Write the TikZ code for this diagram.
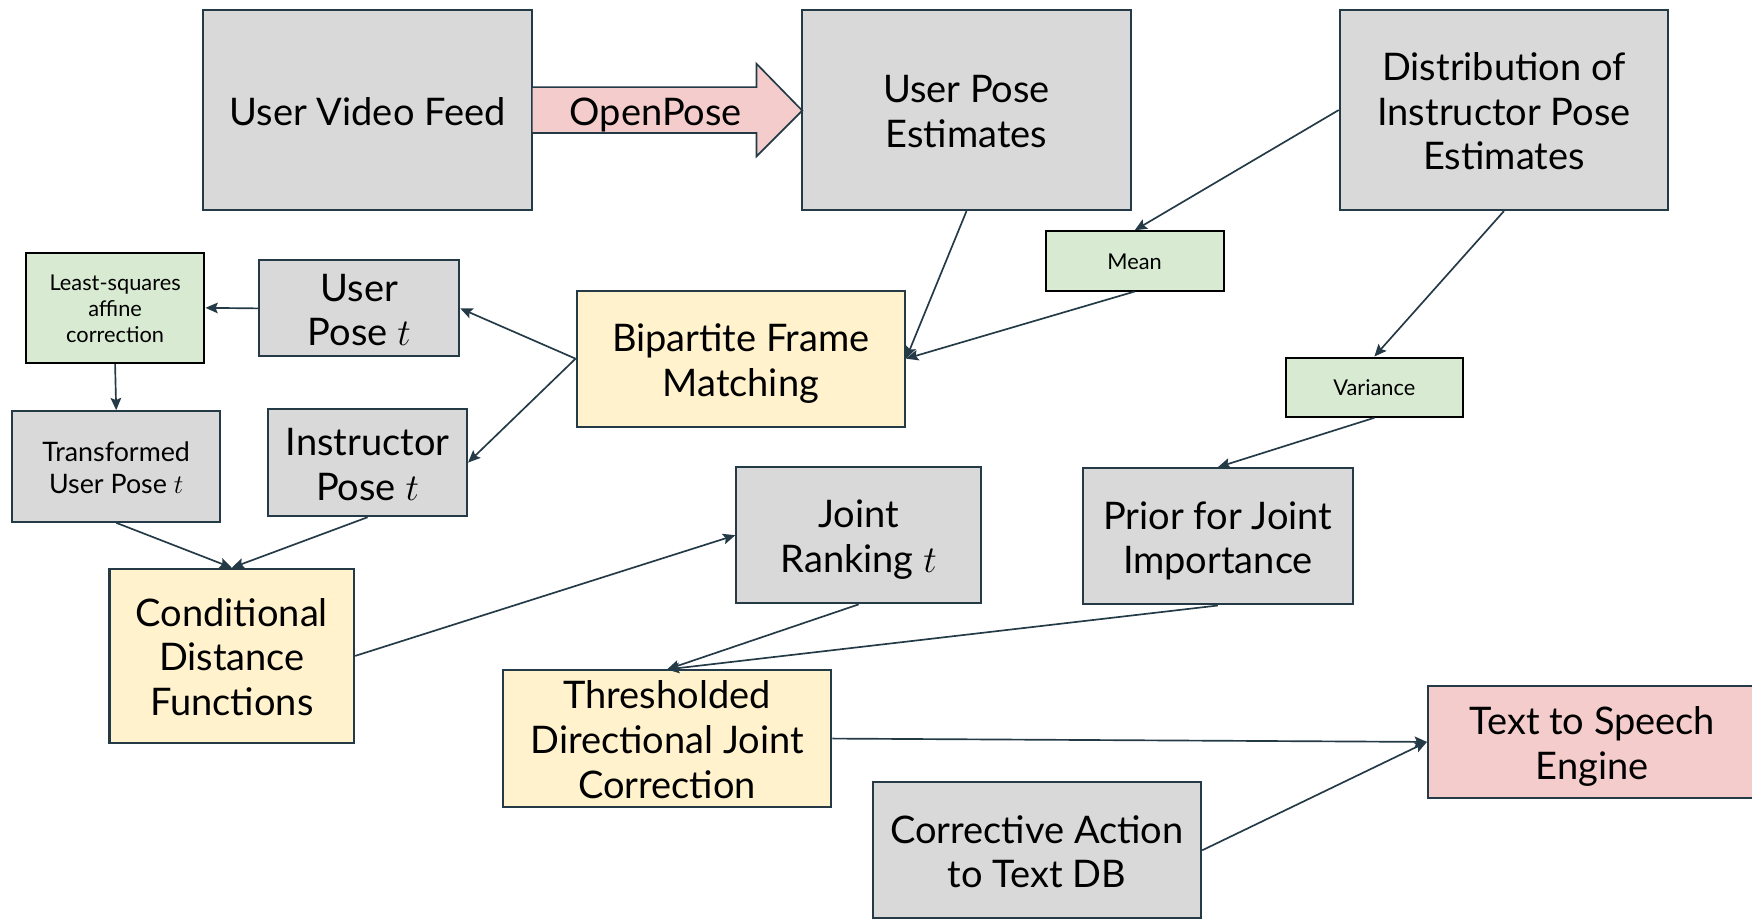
\RequirePackage{fix-cm}
\documentclass[tikz,border=0pt]{standalone}
\usepackage{fontspec}
\setmainfont{Lato}
\usetikzlibrary{arrows.meta}
\definecolor{edge}{HTML}{243A47}
\definecolor{gfill}{HTML}{D9D9D9}
\definecolor{yfill}{HTML}{FFF2CC}
\definecolor{grfill}{HTML}{D9EAD3}
\definecolor{pfill}{HTML}{F4CCCC}
\newcommand\bs{\rule[-0.1625\baselineskip]{0pt}{\baselineskip}}
\tikzset{
  box/.style={draw=edge, line width=1.8pt, align=center, inner sep=0pt, text=black},
  bigtxt/.style={font=\fontsize{34}{40}\selectfont},
  midtxt/.style={font=\fontsize{24}{29}\selectfont},
  smalltxt/.style={font=\fontsize{19.5}{23}\selectfont},
  gbox/.style={box, fill=gfill},
  ybox/.style={box, fill=yfill},
  grbox/.style={box, fill=grfill, draw=black},
  pbox/.style={box, fill=pfill},
  arr/.style={draw=edge, line width=1.5pt, -{Stealth[length=11pt,width=9.5pt,inset=2pt]}}
}
\begin{document}
\begin{tikzpicture}[x=1pt,y=-1pt]
\fill[white] (0,0) rectangle (1568,822);
\useasboundingbox (0,0) rectangle (1568,822);

% top row
\node[gbox,bigtxt,minimum width=294,minimum height=179] (uvf) at (329,98.5) {\bs User Video Feed\bs};
\node[gbox,bigtxt,minimum width=294,minimum height=179] (upe) at (865,98.5) {\bs User Pose\\Estimates\bs};
\node[gbox,bigtxt,minimum width=294,minimum height=179] (dist) at (1346,98.5) {\bs Distribution of\\Instructor Pose\\Estimates\bs};

% OpenPose block arrow
\filldraw[fill=pfill, draw=edge, line width=1.5pt] (476,78) -- (677,78) -- (677,57) -- (718,99) -- (677,140) -- (677,119) -- (476,119) -- cycle;
\node[bigtxt, inner sep=0pt] (op) at (587,99) {\bs OpenPose\bs};

% green small boxes
\node[grbox,smalltxt,minimum width=159,minimum height=53] (mean) at (1015.5,233.5) {\bs Mean\bs};
\node[grbox,smalltxt,minimum width=158,minimum height=53] (var) at (1230,346.5) {\bs Variance\bs};
\node[grbox,smalltxt,minimum width=160,minimum height=99] (lsq) at (103,275.5) {\bs Least-squares\\affine\\correction\bs};

% middle
\node[gbox,bigtxt,minimum width=179,minimum height=86] (upt) at (321.5,276) {\bs User\\Pose $t$\bs};
\node[ybox,bigtxt,minimum width=294,minimum height=122] (bfm) at (663,321) {\bs Bipartite Frame\\Matching\bs};
\node[gbox,midtxt,minimum width=186,minimum height=99] (tup) at (104,417.5) {\bs Transformed\\User Pose $t$\bs};
\node[gbox,bigtxt,minimum width=178,minimum height=96] (ipt) at (329,414) {\bs Instructor\\Pose $t$\bs};
\node[gbox,bigtxt,minimum width=219,minimum height=122] (jr) at (768.5,479) {\bs Joint\\Ranking $t$\bs};
\node[gbox,bigtxt,minimum width=242,minimum height=122] (prior) at (1090,480) {\bs Prior for Joint\\Importance\bs};

% bottom
\node[ybox,bigtxt,minimum width=219,minimum height=156] (cdf) at (207.5,587) {\bs Conditional\\Distance\\Functions\bs};
\node[ybox,bigtxt,minimum width=294,minimum height=122] (tdj) at (597,661) {\bs Thresholded\\Directional Joint\\Correction\bs};
\node[pbox,bigtxt,minimum width=294,minimum height=100] (tts) at (1425,664) {\bs Text to Speech\\Engine\bs};
\node[gbox,bigtxt,minimum width=294,minimum height=122] (cat) at (928,761) {\bs Corrective Action\\to Text DB\bs};

% connectors
\draw[arr] (upe.south) -- (bfm.east);
\draw[arr] (dist.west) -- (mean.north);
\draw[arr] (mean.south) -- (bfm.east);
\draw[arr] (dist.south) -- (var.north);
\draw[arr] (var.south) -- (prior.north);
\draw[arr] (bfm.west) -- (upt.east);
\draw[arr] (bfm.west) -- (ipt.east);
\draw[arr] (upt.west) -- (lsq.east);
\draw[arr] (lsq.south) -- (tup.north);
\draw[arr] (tup.south) -- (cdf.north);
\draw[arr] (ipt.south) -- (cdf.north);
\draw[arr] (cdf.east) -- (jr.west);
\draw[arr] (jr.south) -- (tdj.north);
\draw[arr] (prior.south) -- (tdj.north);
\draw[arr] (tdj.east) -- (tts.west);
\draw[arr] (cat.east) -- (tts.west);
\end{tikzpicture}
\end{document}
